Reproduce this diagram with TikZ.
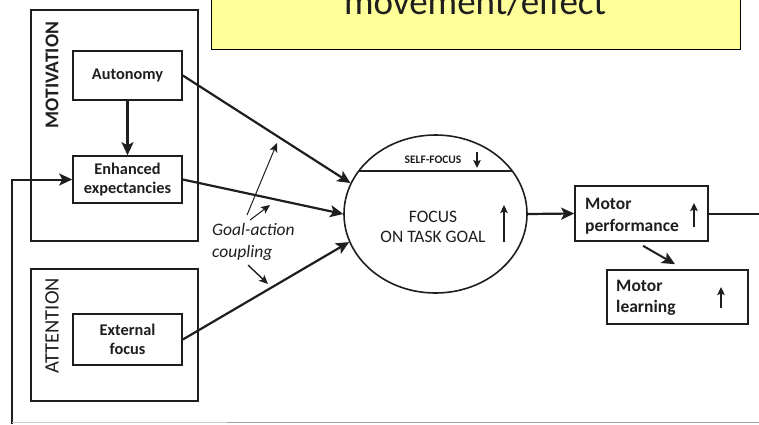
\documentclass[tikz,border=0pt]{standalone}
\usepackage{fontspec}
\setmainfont{Carlito}
\usetikzlibrary{shapes.geometric,calc,arrows.meta}
\definecolor{notey}{RGB}{255,255,153}
\definecolor{ink}{RGB}{30,30,30}
\begin{document}
\begin{tikzpicture}[x=1pt,y=-1pt,color=ink,
	box/.style={draw,line width=1.6pt,minimum width=109pt,align=center,inner sep=0pt,font=\fontsize{16.3}{18.5}\selectfont\bfseries},
	frame/.style={draw,line width=1.6pt,minimum width=167pt,inner sep=0pt},
	result/.style={draw,line width=1.6pt,inner sep=0pt},
	label/.style={anchor=west,align=left,inner sep=0pt,font=\fontsize{17.5}{21.5}\selectfont\bfseries},
	link/.style={-{Stealth[length=13pt,width=12pt,inset=3pt]},line width=2.2pt},
	cue/.style={-{Stealth[length=9pt,width=8pt,inset=2pt]},line width=1pt},
	rise/.style={-{Stealth[length=8pt,width=7.5pt,inset=1.5pt]},line width=1.5pt}]
	\useasboundingbox (0,0) rectangle (759,424);
	\clip (0,0) rectangle (759,424);
	% note on top
	\node[draw=black,fill=notey,line width=1pt,minimum width=529pt,minimum height=56pt,inner sep=0pt] (note) at (475.5,21) {};
	\node[anchor=base,font=\fontsize{37}{40}\selectfont] (effect) at (475,14) {movement/effect};
	% left frames
	\node[frame,minimum height=231pt] (motiv) at (114.5,125.5) {};
	\node[frame,minimum height=132pt] (attn) at (114.5,335) {};
	\node[rotate=90,font=\fontsize{19.5}{20}\selectfont\bfseries] at (52,75) {MOTIVATION};
	\node[rotate=90,font=\fontsize{20.5}{21}\selectfont] at (52,326) {ATTENTION};
	\node[box,minimum height=49pt] (auto) at (127.5,75.5) {Autonomy};
	\node[box,minimum height=47pt] (enh) at (127.5,179.5) {Enhanced\\expectancies};
	\node[box,minimum height=51pt] (ext) at (127.5,339.5) {External\\focus};
	\draw[link] (auto) -- (enh);
	% focus
	\node[draw,ellipse,line width=1.6pt,minimum width=183pt,minimum height=158pt,inner sep=0pt] (focus) at (435.5,214) {};
	\draw[line width=1.4pt] ($(focus.center)+(-76.8,-43)$) -- ($(focus.center)+(76.8,-43)$);
	\node[font=\fontsize{11.5}{12}\selectfont\bfseries] (self) at (433,160) {SELF-FOCUS};
	\draw[rise] (477,152) -- (477,168);
	\node[align=center,font=\fontsize{17.5}{20}\selectfont] (task) at (433,227) {FOCUS\\ON TASK GOAL};
	\draw[rise,line width=1.1pt] (504,242) -- (504,205);
	% results
	\node[result,minimum width=133pt,minimum height=55pt] (perf) at (641.5,213.5) {};
	\node[label] at (585,216) {Motor\\performance};
	\draw[rise] (694,227) -- (694,203);
	\node[result,minimum width=141pt,minimum height=54pt] (learn) at (677.5,297) {};
	\node[label] at (616,298) {Motor\\learning};
	\draw[rise] (721,308) -- (721,287);
	% links
	\draw[link] (auto.east) -- (focus.160);
	\draw[link] (enh.east) -- (focus.west);
	\draw[link] (ext.east) -- (focus.198);
	\draw[link] (focus.east) -- (perf.west);
	\draw[link,line width=2pt] ([xshift=1.5pt,yshift=-4pt]perf.south) -- ([xshift=-2.5pt,yshift=5pt]learn.north);
	\coordinate (exit) at (759,213.5);
	\draw[line width=2pt] (perf.east) -- (exit);
	\coordinate (loop) at (12,424);
	\draw[link,line width=2pt] (loop) |- (enh.west);
	\draw[gray!40,line width=1.2pt] (12,422.5) -- (227,422.5);
	\draw[gray!75,line width=1.2pt] (227,422.5) -- (759,422.5);
	% goal-action coupling
	\node[anchor=north west,align=left,inner sep=0pt,font=\fontsize{17.5}{22}\selectfont\itshape] (gac) at (212,223) {Goal-action\\coupling};
	\coordinate (g1) at (247,215); \coordinate (g1e) at (277,143);
	\coordinate (g2) at (250,220); \coordinate (g2e) at (270,205);
	\coordinate (g3) at (248,265); \coordinate (g3e) at (268,284);
	\draw[cue] (g1) -- (g1e);
	\draw[cue] (g2) -- (g2e);
	\draw[cue,line width=1.4pt] (g3) -- (g3e);
\end{tikzpicture}
\end{document}
